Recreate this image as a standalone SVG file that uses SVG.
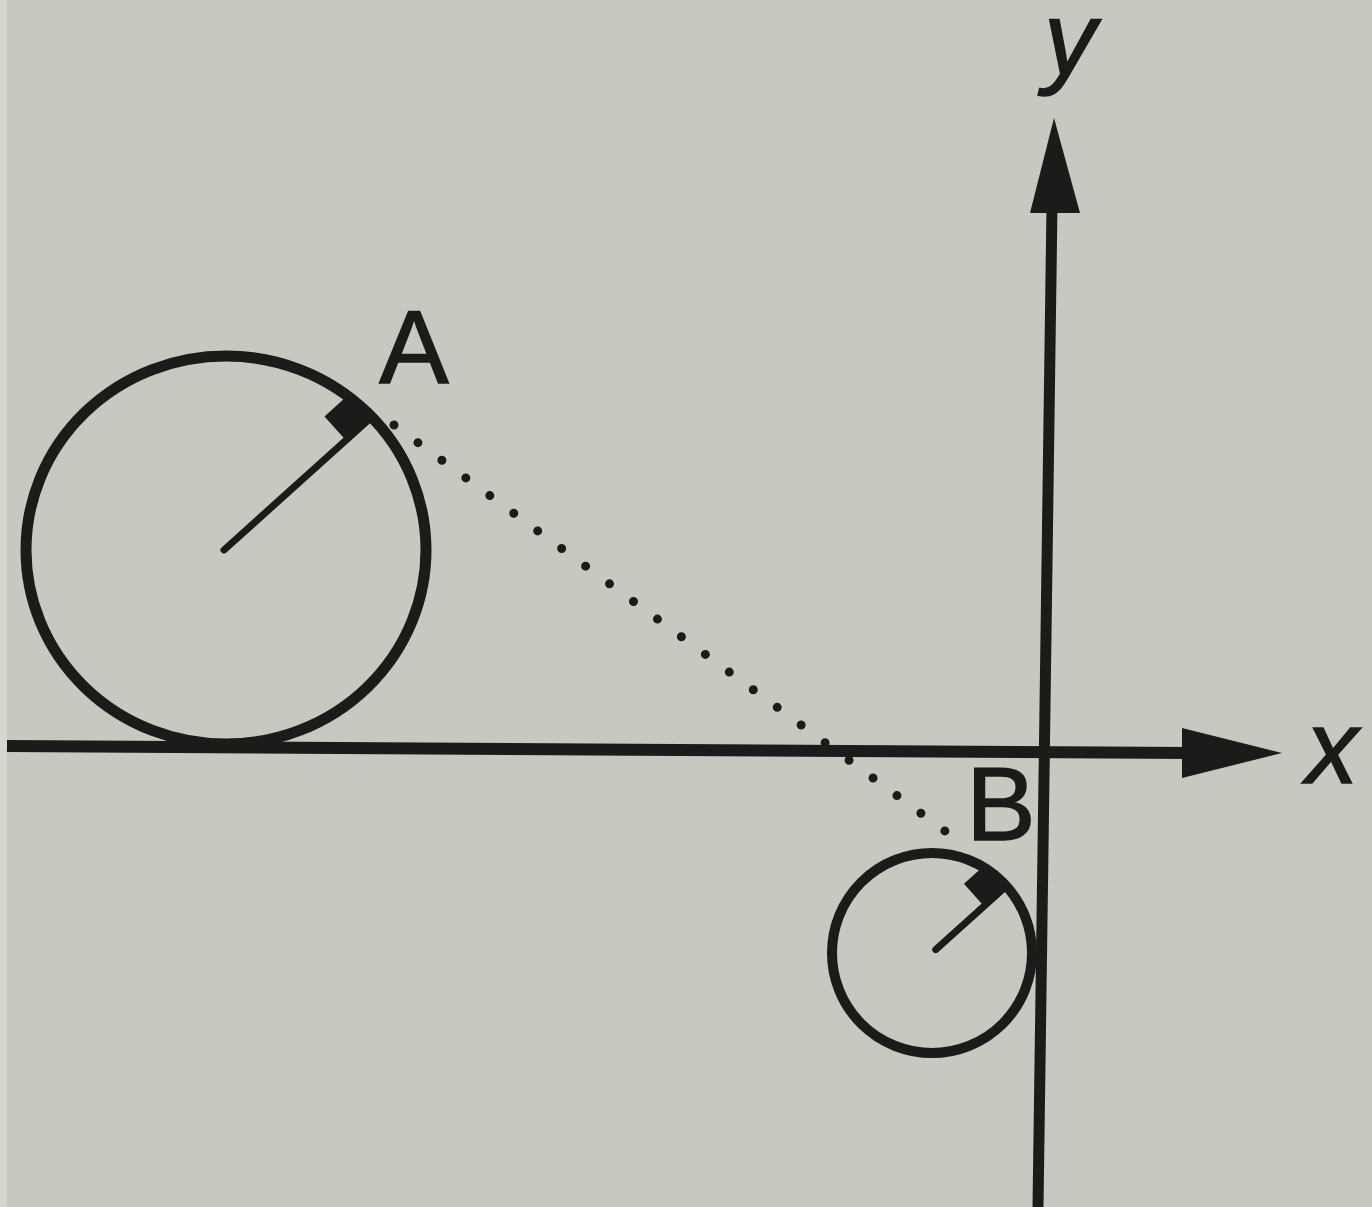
<svg xmlns="http://www.w3.org/2000/svg" width="1372" height="1207" viewBox="0 0 1372 1207">
  <defs>
    <style>
      .ink { stroke: #1d1a1a; fill: none; }
      .fill { fill: #1d1a1a; stroke: none; }
      .lbl { font-family: "Liberation Sans", Arial, sans-serif; fill: #1d1a1a; stroke: #1d1a1a; stroke-width: 1.5; font-size: 104px; }
      .it { font-style: italic; }
      .dots { stroke: #1d1a1a; stroke-width: 9; stroke-linecap: round; stroke-dasharray: 0 29.75; fill: none; }
    </style>
  </defs>
  <rect x="0" y="0" width="1372" height="1207" fill="#c8c8c1"/>
  <rect x="0" y="0" width="7" height="1207" fill="#d6d6d0"/>

  <g id="connectors">
    <line id="x-axis" class="ink" x1="7" y1="746" x2="1190" y2="753" stroke-width="12"/>
    <polygon id="x-arrow" class="fill" points="1282,753 1182,728 1182,778"/>
    <line id="y-axis" class="ink" x1="1038" y1="1207" x2="1052" y2="205" stroke-width="11"/>
    <polygon id="y-arrow" class="fill" points="1054,118 1030,213 1080,213"/>
    <line id="tangent-AB" class="dots" x1="394" y1="425" x2="945" y2="831"/>
  </g>

  <g id="circle-A">
    <ellipse class="ink" cx="226" cy="550" rx="200" ry="194" stroke-width="11"/>
    <g transform="translate(224,550) rotate(-42)">
      <line class="ink" x1="0" y1="0" x2="196" y2="0" stroke-width="7" stroke-linecap="round"/>
      <rect class="fill" x="164" y="-32" width="32" height="32"/>
    </g>
  </g>

  <g id="circle-B">
    <circle class="ink" cx="932" cy="953" r="100" stroke-width="10"/>
    <g transform="translate(932,953) rotate(-42)">
      <line class="ink" x1="5" y1="0" x2="100" y2="0" stroke-width="7" stroke-linecap="round"/>
      <rect class="fill" x="70" y="-30" width="30" height="30"/>
    </g>
  </g>

  <g id="labels">
    <text id="label-A" class="lbl" x="414" y="383" text-anchor="middle">A</text>
    <text id="label-B" class="lbl" x="1001" y="840" text-anchor="middle">B</text>
    <text id="label-x" class="lbl it" x="1332" y="783" text-anchor="middle">x</text>
    <text id="label-y" class="lbl it" x="1070" y="74" text-anchor="middle">y</text>
  </g>
</svg>
